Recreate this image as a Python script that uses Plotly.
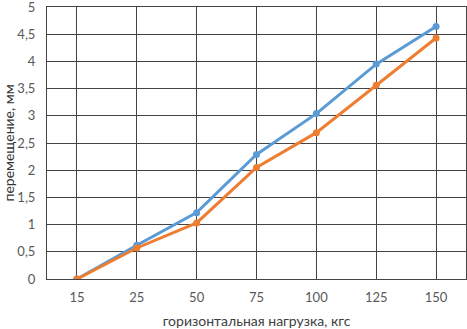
import plotly.graph_objects as go

categories = ["15", "25", "50", "75", "100", "125", "150"]
series_blue = [0, 0.62, 1.22, 2.29, 3.04, 3.95, 4.64]
series_orange = [0, 0.57, 1.03, 2.05, 2.69, 3.56, 4.43]
y_ticks = [0, 0.5, 1, 1.5, 2, 2.5, 3, 3.5, 4, 4.5, 5]
y_tick_labels = ["0", "0,5", "1", "1,5", "2", "2,5", "3", "3,5", "4", "4,5", "5"]

fig = go.Figure()
fig.add_trace(go.Scatter(x=categories, y=series_blue, mode="lines+markers",
                         line=dict(color="#5B9BD5", width=3),
                         marker=dict(color="#5B9BD5", size=7), showlegend=False))
fig.add_trace(go.Scatter(x=categories, y=series_orange, mode="lines+markers",
                         line=dict(color="#ED7D31", width=3),
                         marker=dict(color="#ED7D31", size=7), showlegend=False))

fig.update_layout(
    width=467, height=329,
    margin=dict(l=47, r=1, t=7, b=50),
    paper_bgcolor="white", plot_bgcolor="white",
    font=dict(family="Lato, 'Open Sans', sans-serif", size=13, color="#595959"),
    xaxis=dict(type="category", range=[-0.5, 6.5], showgrid=True, gridcolor="#444444",
               gridwidth=1, showline=True, linecolor="#444444", linewidth=1, mirror=True,
               ticks="", zeroline=False, automargin=False, ticklabeloverflow="allow",
               ticklabelstandoff=6,
               title=dict(text="горизонтальная нагрузка, кгс", standoff=15,
                          font=dict(size=14, color="#404040"))),
    yaxis=dict(range=[0, 5], tickvals=y_ticks, ticktext=y_tick_labels, showgrid=True,
               gridcolor="#444444", gridwidth=1, showline=True, linecolor="#444444",
               linewidth=1, mirror=True, ticks="", zeroline=False, automargin=False,
               ticklabeloverflow="allow", ticklabelstandoff=8,
               title=dict(text="перемещение, мм", standoff=2,
                          font=dict(size=14, color="#333333"))),
)

fig.write_html("out.html", config={"displayModeBar": False},
               post_script="document.body.style.margin='0';")
